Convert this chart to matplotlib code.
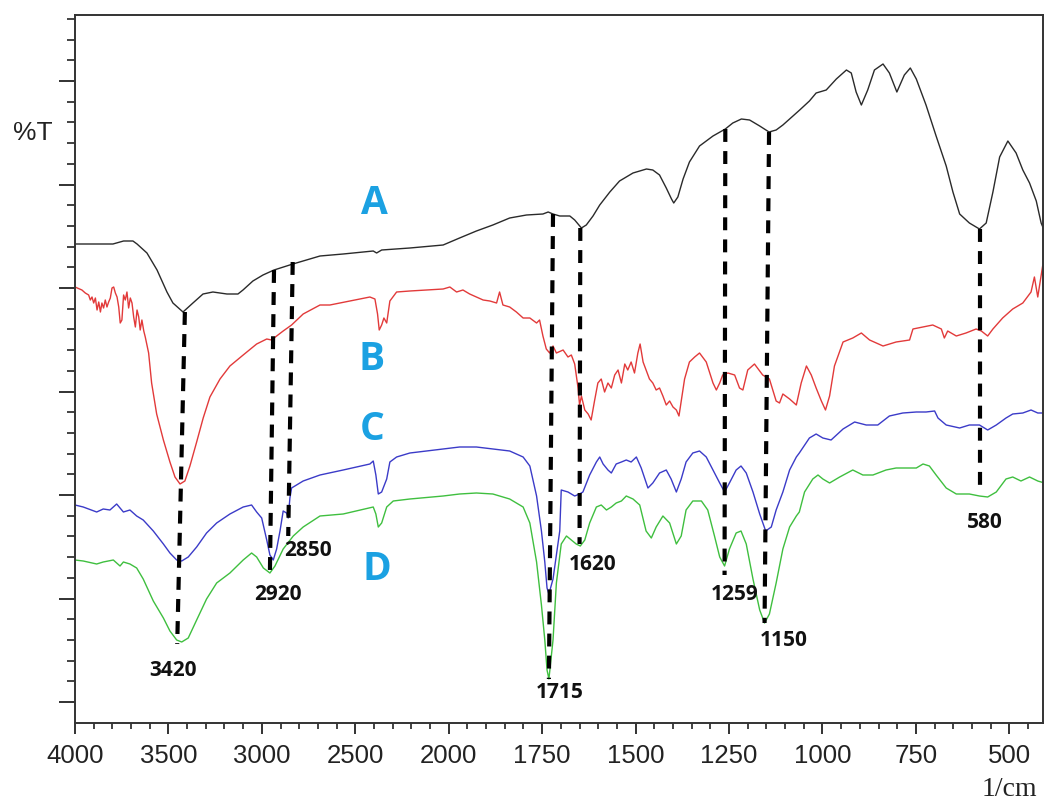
import numpy as np
from matplotlib import pyplot as plt
from matplotlib.ticker import FixedLocator, NullFormatter, FuncFormatter

# sample A (black)
a_wn = [4000, 3797, 3740, 3690, 3668, 3615, 3561, 3508, 3476, 3422, 3369, 3315, 3262, 3187,
        3128, 3101, 3048, 2994, 2935, 2834, 2689, 2565, 2404, 2386, 2359, 2208, 2030, 1971,
        1926, 1882, 1837, 1792, 1748, 1734, 1721, 1703, 1676, 1663, 1645, 1632, 1614, 1596,
        1569, 1543, 1507, 1471, 1454, 1436, 1418, 1404, 1398, 1387, 1373, 1356, 1329, 1293,
        1260, 1240, 1217, 1195, 1168, 1143, 1124, 1106, 1079, 1061, 1035, 1017, 990, 963,
        936, 923, 910, 896, 879, 861, 838, 821, 801, 781, 765, 749, 723, 696, 669, 651, 633,
        607, 580, 562, 544, 526, 504, 482, 464, 446, 428, 415, 406]
a_t = [47.9, 47.9, 48.2, 48.2, 47.9, 47.0, 45.3, 43.1, 42.0, 41.1, 42.0, 42.9, 43.1, 42.9,
       42.9, 43.3, 44.2, 44.8, 45.3, 45.9, 46.7, 46.9, 47.2, 47.0, 47.3, 47.5, 47.8, 48.5,
       49.2, 49.8, 50.5, 50.8, 50.9, 51.1, 50.9, 50.7, 50.7, 50.3, 49.5, 49.8, 50.7, 51.8,
       53.1, 54.2, 55.0, 55.4, 55.3, 54.8, 53.5, 52.4, 52.0, 52.6, 54.4, 56.1, 57.7, 58.7,
       59.4, 60.0, 60.4, 60.3, 59.7, 59.1, 59.3, 59.8, 60.7, 61.3, 62.2, 63.0, 63.3, 64.4,
       65.3, 65.0, 63.1, 61.8, 63.3, 65.3, 65.9, 65.0, 63.1, 64.8, 65.5, 64.4, 61.8, 58.7,
       55.7, 53.1, 50.9, 50.0, 49.4, 50.0, 53.1, 56.6, 58.2, 57.0, 55.3, 54.0, 52.2, 50.0, 49.2]

# sample B (red)
b_wn = [4000, 3963, 3945, 3927, 3918, 3909, 3900, 3891, 3882, 3873, 3864, 3856, 3847, 3838,
        3829, 3820, 3811, 3802, 3793, 3784, 3775, 3766, 3758, 3749, 3740, 3731, 3722, 3713,
        3704, 3695, 3686, 3677, 3668, 3659, 3651, 3642, 3632, 3624, 3606, 3590, 3563, 3527,
        3492, 3465, 3438, 3412, 3385, 3349, 3314, 3278, 3224, 3171, 3100, 3028, 2974, 2948,
        2921, 2886, 2841, 2779, 2689, 2636, 2529, 2422, 2395, 2381, 2372, 2359, 2347, 2332,
        2315, 2279, 2208, 2118, 2030, 1997, 1979, 1962, 1944, 1926, 1908, 1890, 1872, 1864,
        1855, 1837, 1819, 1801, 1783, 1765, 1757, 1748, 1739, 1730, 1721, 1712, 1694, 1681,
        1672, 1663, 1654, 1650, 1645, 1636, 1627, 1619, 1610, 1601, 1592, 1583, 1574, 1565,
        1556, 1547, 1538, 1529, 1521, 1512, 1503, 1494, 1488, 1480, 1472, 1463, 1454, 1445,
        1436, 1427, 1418, 1409, 1400, 1391, 1384, 1378, 1369, 1356, 1342, 1329, 1311, 1293,
        1284, 1275, 1267, 1253, 1235, 1222, 1213, 1200, 1182, 1160, 1142, 1124, 1115, 1106,
        1088, 1070, 1057, 1043, 1030, 1017, 1003, 992, 981, 968, 945, 919, 896, 874, 838, 803,
        767, 758, 731, 705, 682, 674, 665, 642, 616, 589, 575, 558, 544, 518, 491, 464, 442,
        433, 424, 418, 411]
b_t = [43.6, 43.3, 43.0, 42.8, 42.3, 42.6, 42.0, 42.5, 41.3, 42.1, 41.1, 42.0, 41.5, 42.3,
       41.6, 42.1, 42.5, 43.5, 43.6, 43.0, 42.6, 41.6, 40.0, 40.3, 42.8, 42.3, 43.1, 41.5,
       42.5, 42.0, 40.6, 39.6, 41.3, 40.6, 39.3, 40.3, 39.2, 38.6, 37.0, 34.0, 30.9, 28.3,
       26.1, 24.6, 23.9, 24.2, 25.7, 28.1, 30.5, 32.6, 34.4, 35.7, 36.8, 37.9, 38.4, 38.3,
       38.7, 39.2, 39.8, 40.9, 41.8, 41.8, 42.2, 42.6, 42.4, 40.9, 39.3, 39.8, 40.5, 40.0,
       42.2, 43.1, 43.2, 43.3, 43.4, 43.6, 43.1, 43.3, 42.9, 42.6, 42.3, 42.2, 42.0, 43.1,
       41.8, 41.6, 41.1, 40.5, 40.5, 40.0, 40.3, 38.7, 37.4, 37.0, 37.7, 37.0, 37.3, 36.6,
       36.8, 35.9, 33.5, 31.8, 32.7, 31.3, 30.9, 30.3, 32.2, 34.0, 34.4, 33.1, 34.0, 33.5,
       34.8, 35.3, 34.0, 35.9, 35.3, 36.1, 35.0, 37.0, 37.9, 36.1, 35.3, 34.4, 34.0, 33.3,
       33.5, 32.7, 31.8, 32.2, 31.6, 31.3, 30.7, 32.2, 34.4, 36.1, 36.6, 37.0, 36.1, 34.0,
       33.3, 34.0, 34.8, 35.0, 34.8, 33.5, 33.3, 35.3, 35.9, 34.8, 34.4, 32.2, 32.0, 32.9,
       32.4, 31.8, 34.0, 35.7, 34.8, 33.5, 32.2, 31.3, 32.7, 35.7, 38.1, 38.5, 39.0, 38.3,
       37.7, 38.1, 38.3, 39.4, 39.6, 39.8, 39.4, 38.5, 39.2, 38.7, 39.0, 39.4, 39.2, 38.7,
       39.4, 40.5, 41.4, 42.0, 43.1, 44.6, 42.6, 44.0, 45.7]

# sample C (blue)
c_wn = [4000, 3956, 3884, 3849, 3813, 3777, 3741, 3706, 3670, 3635, 3581, 3527, 3492, 3456,
        3429, 3394, 3349, 3296, 3242, 3171, 3100, 3055, 3028, 3001, 2974, 2957, 2939, 2921,
        2903, 2886, 2868, 2859, 2850, 2841, 2779, 2689, 2565, 2422, 2404, 2390, 2377, 2359,
        2332, 2315, 2279, 2208, 2118, 2030, 1971, 1926, 1882, 1837, 1801, 1783, 1765, 1752,
        1743, 1737, 1732, 1721, 1708, 1703, 1699, 1681, 1663, 1650, 1641, 1623, 1605, 1596,
        1587, 1574, 1565, 1552, 1538, 1525, 1512, 1498, 1485, 1467, 1454, 1436, 1418, 1405,
        1391, 1378, 1365, 1347, 1329, 1311, 1293, 1275, 1262, 1249, 1231, 1218, 1204, 1186,
        1168, 1152, 1137, 1124, 1106, 1088, 1070, 1062, 1035, 1017, 999, 977, 945, 914, 883,
        852, 821, 785, 749, 723, 700, 691, 669, 633, 607, 580, 558, 535, 509, 491, 464, 442,
        424, 406]
c_t = [21.8, 21.6, 21.1, 21.4, 21.3, 21.9, 21.1, 21.3, 20.7, 20.3, 19.2, 17.9, 17.0, 16.3,
       16.2, 16.6, 17.6, 19.0, 20.0, 20.9, 21.6, 21.8, 21.1, 20.5, 18.3, 16.8, 16.3, 17.4,
       19.2, 21.2, 21.0, 20.5, 22.5, 23.5, 24.2, 24.8, 25.3, 25.9, 26.2, 24.8, 22.9, 23.1,
       24.4, 26.1, 26.6, 27.0, 27.2, 27.4, 27.6, 27.6, 27.4, 27.2, 26.6, 25.7, 22.7, 19.2,
       16.1, 13.5, 12.9, 14.4, 17.9, 19.2, 23.3, 23.1, 22.7, 22.9, 23.1, 24.8, 26.1, 26.6,
       25.9, 25.3, 25.0, 25.9, 26.1, 26.3, 26.1, 26.6, 25.5, 23.5, 24.0, 25.0, 25.3, 24.4,
       23.1, 24.4, 26.1, 27.0, 27.2, 26.6, 25.3, 24.0, 23.1, 24.0, 25.3, 25.7, 25.0, 23.1,
       20.9, 19.2, 19.6, 21.3, 23.1, 25.3, 26.6, 27.0, 28.5, 28.9, 28.5, 28.3, 29.4, 30.1,
       29.8, 29.8, 30.7, 31.0, 31.1, 31.1, 31.2, 30.5, 29.8, 29.5, 29.8, 29.8, 29.3, 29.8,
       30.5, 30.9, 31.0, 31.3, 31.0, 31.0]

# sample D (green)
d_wn = [4000, 3956, 3884, 3849, 3795, 3759, 3741, 3706, 3670, 3635, 3581, 3527, 3492, 3456,
        3429, 3394, 3349, 3296, 3242, 3171, 3100, 3055, 3028, 2992, 2957, 2930, 2886, 2832,
        2779, 2689, 2565, 2404, 2390, 2377, 2359, 2332, 2297, 2208, 2030, 1971, 1926, 1882,
        1837, 1801, 1783, 1765, 1752, 1743, 1737, 1732, 1721, 1712, 1699, 1685, 1672, 1659,
        1648, 1636, 1623, 1605, 1592, 1578, 1565, 1552, 1538, 1525, 1507, 1489, 1472, 1458,
        1445, 1427, 1409, 1391, 1378, 1365, 1347, 1324, 1307, 1289, 1275, 1262, 1249, 1231,
        1218, 1204, 1186, 1168, 1155, 1142, 1124, 1106, 1088, 1070, 1062, 1048, 1026, 1012,
        999, 981, 954, 919, 892, 865, 830, 803, 767, 749, 731, 714, 696, 669, 642, 607, 580,
        558, 535, 509, 491, 469, 446, 424, 406]
d_t = [16.3, 16.2, 15.9, 16.1, 16.3, 15.7, 16.1, 15.9, 15.5, 14.4, 12.2, 10.5, 9.2, 8.3,
       8.1, 8.5, 10.3, 12.4, 14.0, 15.0, 16.3, 17.0, 16.6, 15.5, 15.0, 15.7, 17.4, 18.7,
       19.6, 20.7, 20.9, 21.6, 20.9, 19.6, 20.0, 21.6, 22.2, 22.4, 22.7, 22.9, 23.0, 22.9,
       22.4, 21.6, 20.0, 16.1, 11.8, 8.3, 5.3, 4.4, 8.3, 14.0, 17.9, 18.7, 18.3, 17.9,
       17.7, 18.3, 20.0, 21.6, 21.8, 21.3, 21.6, 22.0, 22.2, 22.7, 22.4, 21.8, 19.2, 18.5,
       19.6, 20.7, 20.0, 17.9, 18.7, 21.3, 22.2, 22.2, 21.3, 18.7, 16.6, 15.7, 17.4, 19.0,
       19.2, 17.9, 14.4, 11.3, 10.0, 10.9, 14.0, 17.4, 19.6, 20.7, 21.1, 23.1, 24.4, 24.8,
       24.4, 24.0, 24.6, 25.3, 24.8, 24.8, 25.3, 25.5, 25.5, 25.5, 25.9, 25.7, 24.8, 23.5,
       22.9, 22.9, 22.7, 22.6, 23.1, 24.4, 24.6, 24.2, 24.6, 24.2, 24.0]

# peak markers: label, top (wn, T), bottom (wn, T), label position
peak_labels = ['3420', '2920', '2850', '1715', '1620', '1259', '1150', '580']
line_top_wn = [3412, 2935, 2835, 1721, 1648, 1260, 1143, 578]
line_top_t = [41.1, 45.3, 46.1, 50.9, 49.5, 59.4, 59.1, 49.4]
line_bot_wn = [3453, 2957, 2859, 1732, 1650, 1262, 1155, 578]
line_bot_t = [7.9, 15.0, 18.7, 4.4, 17.9, 14.8, 10.0, 23.5]
label_wn = [3476, 2914, 2754, 1703, 1615, 1235, 1104, 565]
label_t = [5.3, 12.9, 17.2, 3.1, 15.9, 12.9, 8.3, 20.0]

sample_names = ['A', 'B', 'C', 'D']
sample_wn = [2400, 2411, 2411, 2384]
sample_t = [51.9, 36.3, 29.3, 15.4]


def fwd(x):
    x = np.asarray(x, dtype=float)
    return np.where(x >= 2000, x, 2 * x - 2000)


def inv(u):
    u = np.asarray(u, dtype=float)
    return np.where(u >= 2000, u, (u + 2000) / 2)


def main():
    fig = plt.figure(figsize=(10.45, 8.01), dpi=100)
    ax = fig.add_axes([75 / 1045, 78 / 801, 968 / 1045, 708 / 801])

    ax.plot(a_wn, a_t, color='#2a2a2a', lw=1.0)
    ax.plot(b_wn, b_t, color='#e23a3a', lw=1.0)
    ax.plot(c_wn, c_t, color='#3b3bc8', lw=1.0)
    ax.plot(d_wn, d_t, color='#3fbf3f', lw=1.0)

    for i in range(len(peak_labels)):
        ax.plot([line_top_wn[i], line_bot_wn[i]], [line_top_t[i], line_bot_t[i]],
                color='black', lw=3, dashes=(3.1, 2.2), solid_capstyle='butt')
        ax.text(label_wn[i], label_t[i], peak_labels[i], ha='center', va='center',
                fontsize=15, fontweight='bold', family='Open Sans', color='#111111')

    for name, w, t in zip(sample_names, sample_wn, sample_t):
        ax.text(w, t, name, ha='center', va='center', fontsize=28, fontweight='bold',
                family='Open Sans', color='#1ba1e2')

    ax.set_xscale('function', functions=(fwd, inv))
    ax.set_xlim(4000, 410)
    ax.set_ylim(0, 70.8)

    majors = [4000, 3500, 3000, 2500, 2000, 1750, 1500, 1250, 1000, 750, 500]
    minors = [w for w in range(3900, 2000, -100) if w not in majors]
    minors += [w for w in range(1950, 400, -50) if w not in majors]
    ax.xaxis.set_major_locator(FixedLocator(majors))
    ax.xaxis.set_minor_locator(FixedLocator(minors))
    ax.xaxis.set_major_formatter(FuncFormatter(lambda v, p: '%d' % round(v)))
    ax.xaxis.set_minor_formatter(NullFormatter())

    ymaj = [2.1 + 10.35 * k for k in range(7)]
    ymin = [2.1 + 2.07 * k for k in range(34) if k % 5 != 0]
    ax.yaxis.set_major_locator(FixedLocator(ymaj))
    ax.yaxis.set_minor_locator(FixedLocator(ymin))
    ax.yaxis.set_major_formatter(NullFormatter())

    ax.tick_params(axis='x', which='major', direction='out', length=8, width=1.3,
                   labelsize=18.5, pad=7, colors='#222222')
    ax.tick_params(axis='x', which='minor', direction='out', length=4, width=1.2,
                   colors='#222222')
    ax.tick_params(axis='y', which='major', direction='out', length=11.5, width=1.3,
                   colors='#222222')
    ax.tick_params(axis='y', which='minor', direction='out', length=6, width=1.2,
                   colors='#222222')
    for label in ax.get_xticklabels():
        label.set_family('Liberation Sans')

    for side in ['left', 'right', 'top', 'bottom']:
        ax.spines[side].set_color('#333333')
        ax.spines[side].set_linewidth(1.4)

    fig.text(33 / 1045, 1 - 133 / 801, '%T', ha='center', va='center', fontsize=19,
             family='Liberation Sans', color='#222222')
    fig.text(1009 / 1045, 1 - 789 / 801, '1/cm', ha='center', va='center', fontsize=20,
             family='Liberation Serif', color='#222222')

    plt.savefig('out.png', dpi=100)


if __name__ == '__main__':
    main()
